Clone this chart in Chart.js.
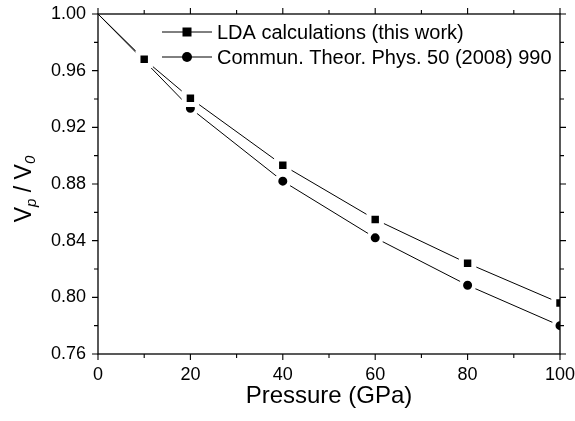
<!DOCTYPE html>
<html>
<head>
<meta charset="utf-8">
<script src="https://cdn.jsdelivr.net/npm/chart.js@4.4.0/dist/chart.umd.min.js"></script>
<style>
html,body{margin:0;padding:0;background:#fff;}
#wrap{width:575px;height:421px;position:relative;}
</style>
</head>
<body>
<div id="wrap"><canvas id="c" width="575" height="421"></canvas></div>
<script>
const pressure = [0, 10, 20, 40, 60, 80, 100];
const ldaValues = [1.000, 0.968, 0.9405, 0.8933, 0.855, 0.824, 0.796];
const refValues = [1.000, 0.967, 0.9335, 0.882, 0.842, 0.8085, 0.780];
const xTicks = [0, 20, 40, 60, 80, 100];
const xMinor = [10, 30, 50, 70, 90];
const yTicks = [0.76, 0.80, 0.84, 0.88, 0.92, 0.96, 1.00];
const yMinor = [0.78, 0.82, 0.86, 0.90, 0.94, 0.98];
const seriesNames = ['LDA calculations (this work)', 'Commun. Theor. Phys. 50 (2008) 990'];

const FONT = '"Liberation Sans", Arial, sans-serif';

const toXY = (ys) => pressure.map((p, i) => ({x: p, y: ys[i]}));
const radii = (r) => pressure.map((p, i) => i === 0 ? 0 : r);

const framePlugin = {
  id: 'frame',
  afterDraw(chart) {
    const {ctx, chartArea: a, scales} = chart;
    const xs = scales.x, ys = scales.y;
    ctx.save();
    ctx.strokeStyle = '#000';
    ctx.lineWidth = 1.3;
    ctx.strokeRect(a.left, a.top, a.right - a.left, a.bottom - a.top);
    ctx.lineWidth = 1.1;
    ctx.beginPath();
    const tick = (x1, y1, x2, y2) => { ctx.moveTo(x1, y1); ctx.lineTo(x2, y2); };
    xTicks.forEach(v => { const px = xs.getPixelForValue(v); tick(px, a.bottom, px, a.bottom + 6); tick(px, a.top, px, a.top - 6); });
    xMinor.forEach(v => { const px = xs.getPixelForValue(v); tick(px, a.bottom, px, a.bottom + 4); tick(px, a.top, px, a.top - 4); });
    yTicks.forEach(v => { const py = ys.getPixelForValue(v); tick(a.left, py, a.left - 6, py); tick(a.right, py, a.right + 6, py); });
    yMinor.forEach(v => { const py = ys.getPixelForValue(v); tick(a.left, py, a.left - 4, py); tick(a.right, py, a.right + 4, py); });
    ctx.stroke();

    // x title
    ctx.fillStyle = '#000';
    ctx.font = '24px ' + FONT;
    ctx.textAlign = 'center';
    ctx.textBaseline = 'middle';
    ctx.fillText('Pressure (GPa)', (a.left + a.right) / 2, 396);

    // y title with subscripts
    ctx.save();
    ctx.translate(25, 189);
    ctx.rotate(-Math.PI / 2);
    const big = '23px ' + FONT, small = 'italic 15px ' + FONT;
    const parts = [
      {t: 'V', f: big, dy: 0},
      {t: 'p', f: small, dy: 7},
      {t: ' / ', f: big, dy: 0},
      {t: 'V', f: big, dy: 0},
      {t: '0', f: small, dy: 6}
    ];
    let total = 0;
    parts.forEach(p => { ctx.font = p.f; p.w = ctx.measureText(p.t).width; total += p.w; });
    let x = -total / 2;
    ctx.textAlign = 'left';
    ctx.textBaseline = 'middle';
    parts.forEach(p => { ctx.font = p.f; ctx.fillText(p.t, x, p.dy); x += p.w; });
    ctx.restore();

    // legend
    const rows = [32, 57];
    chart.data.datasets.forEach((ds, i) => {
      const y = rows[i];
      ctx.strokeStyle = '#000';
      ctx.lineWidth = 1;
      ctx.beginPath(); ctx.moveTo(162, y); ctx.lineTo(212, y); ctx.stroke();
      ctx.fillStyle = '#000';
      if (ds.pointStyle === 'rect') { ctx.fillRect(187 - 4.5, y - 4.5, 9, 9); }
      else { ctx.beginPath(); ctx.arc(187, y, 5, 0, Math.PI * 2); ctx.fill(); }
      ctx.font = '20px ' + FONT;
      ctx.textAlign = 'left';
      ctx.textBaseline = 'middle';
      ctx.fillText(ds.label, 217, y + 1);
    });
    ctx.restore();
  }
};

new Chart(document.getElementById('c'), {
  type: 'line',
  data: {
    datasets: [
      {
        label: seriesNames[0],
        data: toXY(ldaValues),
        borderColor: '#000', borderWidth: 1,
        backgroundColor: '#000',
        pointStyle: 'rect', pointRadius: radii(8.8),
        pointBackgroundColor: '#000', pointBorderColor: '#fff', pointBorderWidth: 5,
        tension: 0, fill: false
      },
      {
        label: seriesNames[1],
        data: toXY(refValues),
        borderColor: '#000', borderWidth: 1,
        backgroundColor: '#000',
        pointStyle: 'circle', pointRadius: radii(6.5),
        pointBackgroundColor: '#000', pointBorderColor: '#fff', pointBorderWidth: 4,
        tension: 0, fill: false
      }
    ]
  },
  options: {
    responsive: false,
    animation: false,
    devicePixelRatio: 1,
    layout: {padding: {left: 0, top: 14, right: 15, bottom: 0}},
    plugins: {legend: {display: false}, tooltip: {enabled: false}},
    elements: {point: {hoverRadius: 0}},
    scales: {
      x: {
        type: 'linear', min: 0, max: 100,
        grid: {display: false, drawTicks: false},
        border: {display: false},
        afterBuildTicks: (s) => { s.ticks = xTicks.map(v => ({value: v})); },
        afterFit: (s) => { s.height = 67; s.paddingLeft = 0; s.paddingRight = 0; },
        ticks: {color: '#000', font: {size: 18, family: FONT}, padding: 10, maxRotation: 0, callback: (v) => String(v)}
      },
      y: {
        type: 'linear', min: 0.76, max: 1.00,
        grid: {display: false, drawTicks: false},
        border: {display: false},
        afterBuildTicks: (s) => { s.ticks = yTicks.map(v => ({value: v})); },
        afterFit: (s) => { s.width = 98; s.paddingTop = 0; s.paddingBottom = 0; },
        ticks: {color: '#000', font: {size: 18, family: FONT}, padding: 12, callback: (v) => Number(v).toFixed(2)}
      }
    }
  },
  plugins: [framePlugin]
});
</script>
</body>
</html>
